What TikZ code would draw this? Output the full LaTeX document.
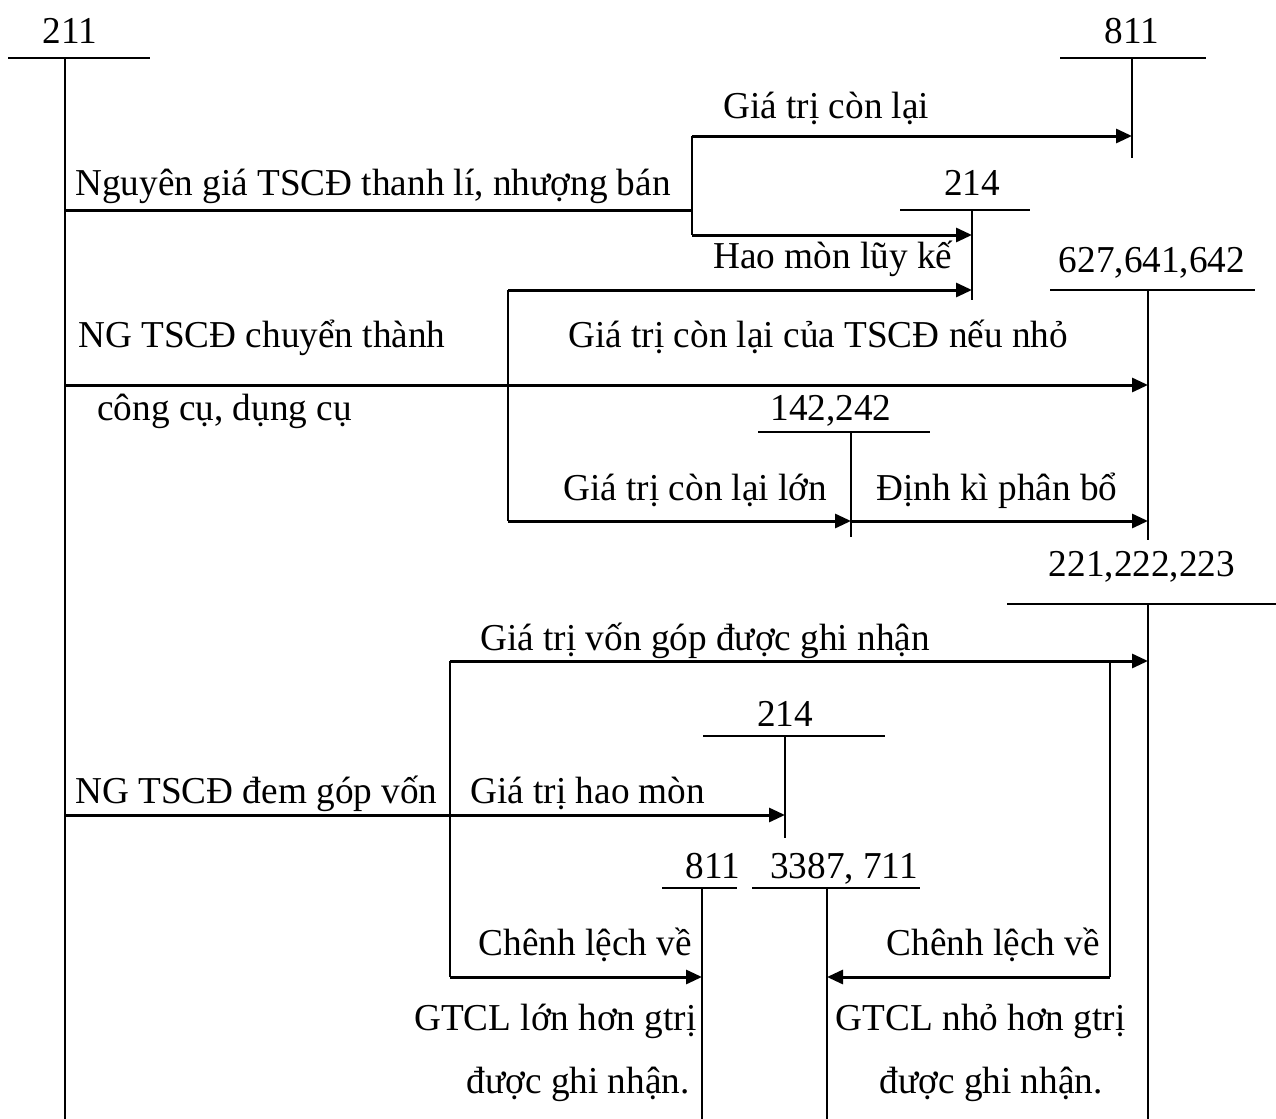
\documentclass[tikz,border=0pt]{standalone}
\usepackage{fontspec}
\setmainfont{Liberation Serif}[FakeStretch=0.98]
\usetikzlibrary{arrows.meta}
\begin{document}
\begin{tikzpicture}[x=0.5pt, y=-0.5pt,
    tacc/.style={line width=1pt},
    flow/.style={line width=1.5pt, -{Triangle[length=8pt, width=7pt]}},
    joint/.style={line width=1pt},
    txt/.style={font=\fontsize{19}{22}\selectfont, inner sep=0pt, anchor=base west},
    num/.style={font=\fontsize{19}{22}\selectfont, inner sep=0pt, anchor=base}]
    \useasboundingbox (0,0) rectangle (1276,1119);

    % Accounts
    \coordinate (a211) at (65,58);
    \coordinate (a811) at (1132,58);
    \coordinate (a214) at (972,210);
    \coordinate (a627) at (1148,290);
    \coordinate (a142) at (851,432);
    \coordinate (a221) at (1148,604);
    \coordinate (b214) at (785,736);
    \coordinate (b811) at (702,888);
    \coordinate (a3387) at (827,888);

    \draw[tacc] (8,58) -- (150,58);      \draw[tacc] (a211) -- (65,1119);
    \draw[tacc] (1060,58) -- (1206,58);  \draw[tacc] (a811) -- (1132,158);
    \draw[tacc] (900,210) -- (1030,210); \draw[tacc] (a214) -- (972,300);
    \draw[tacc] (1050,290) -- (1255,290); \draw[tacc] (a627) -- (1148,540);
    \draw[tacc] (758,432) -- (930,432);  \draw[tacc] (a142) -- (851,537);
    \draw[tacc] (1007,604) -- (1276,604); \draw[tacc] (a221) -- (1148,1119);
    \draw[tacc] (703,736) -- (885,736);  \draw[tacc] (b214) -- (785,838);
    \draw[tacc] (662,888) -- (737,888);  \draw[tacc] (b811) -- (702,1119);
    \draw[tacc] (752,888) -- (920,888);  \draw[tacc] (a3387) -- (827,1119);

    \node[num] (n211) at (70,43) {211};
    \node[num] (n811) at (1132,43) {811};
    \node[num] (n214) at (972,195) {214};
    \node[num] (n627) at (1152,272) {627,641,642};
    \node[num] (n142) at (831,420) {142,242};
    \node[num] (n221) at (1142,576) {221,222,223};
    \node[num] (m214) at (785,726) {214};
    \node[num] (m811) at (713,878) {811};
    \node[num] (n3387) at (844,878) {3387, 711};

    % Thanh li, nhuong ban
    \coordinate (s1) at (65,210);
    \coordinate (j1) at (692,210);
    \coordinate (j1t) at (692,136);
    \coordinate (j1b) at (692,235);
    \draw[flow, -] (s1) -- (j1);
    \draw[joint] (j1t) -- (j1b);
    \draw[flow] (j1t) -- (a811 |- j1t);
    \draw[flow] (j1b) -- (a214 |- j1b);
    \node[txt] (t1) at (75,195) {Nguyên giá TSCĐ thanh lí, nhượng bán};
    \node[txt] (t2) at (723,118) {Giá trị còn lại};
    \node[txt] (t3) at (713,268) {Hao mòn lũy kế};

    % Chuyen thanh cong cu, dung cu
    \coordinate (s2) at (65,385);
    \coordinate (j2t) at (508,290);
    \coordinate (j2b) at (508,521);
    \draw[flow] (s2) -- (a627 |- s2);
    \draw[joint] (j2t) -- (j2b);
    \draw[flow] (j2t) -- (a214 |- j2t);
    \draw[flow] (j2b) -- (a142 |- j2b);
    \draw[flow] (a142 |- j2b) -- (a627 |- j2b);
    \node[txt] (t4) at (78,347) {NG TSCĐ chuyển thành};
    \node[txt] (t5) at (97,420) {công cụ, dụng cụ};
    \node[txt] (t6) at (568,347) {Giá trị còn lại của TSCĐ nếu nhỏ};
    \node[txt] (t7) at (563,500) {Giá trị còn lại lớn};
    \node[txt] (t8) at (876,500) {Định kì phân bổ};

    % Gop von
    \coordinate (s3) at (65,815);
    \coordinate (j3t) at (450,661);
    \coordinate (j3b) at (450,977);
    \coordinate (j4t) at (1110,661);
    \coordinate (j4b) at (1110,977);
    \draw[flow] (s3) -- (b214 |- s3);
    \draw[joint] (j3t) -- (j3b);
    \draw[flow] (j3t) -- (a221 |- j3t);
    \draw[joint] (j4t) -- (j4b);
    \draw[flow] (j3b) -- (b811 |- j3b);
    \draw[flow] (j4b) -- (a3387 |- j4b);
    \node[txt] (t9) at (75,803) {NG TSCĐ đem góp vốn};
    \node[txt] (t10) at (480,650) {Giá trị vốn góp được ghi nhận};
    \node[txt] (t11) at (470,803) {Giá trị hao mòn};
    \node[txt, anchor=base east] (t12) at (692,955) {Chênh lệch về};
    \node[txt, anchor=base east] (t13) at (697,1030) {GTCL lớn hơn gtrị};
    \node[txt, anchor=base east] (t14) at (690,1093) {được ghi nhận.};
    \node[txt, anchor=base east] (t15) at (1100,955) {Chênh lệch về};
    \node[txt, anchor=base east] (t16) at (1126,1030) {GTCL nhỏ hơn gtrị};
    \node[txt, anchor=base east] (t17) at (1103,1093) {được ghi nhận.};
\end{tikzpicture}
\end{document}
